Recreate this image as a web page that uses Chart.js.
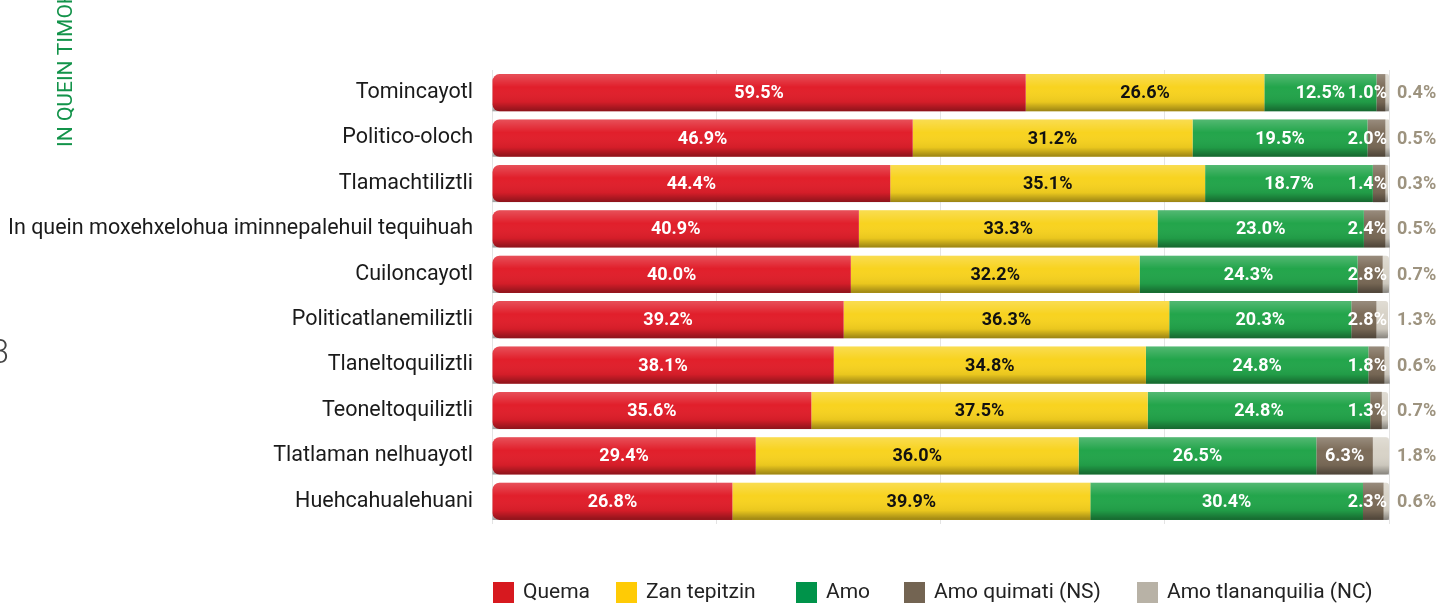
<!DOCTYPE html>
<html>
<head>
<meta charset="utf-8">
<script src="https://cdn.jsdelivr.net/npm/chart.js@4"></script>
<style>
html, body { margin: 0; padding: 0; background: #fff; }
#wrap { width: 1441px; height: 606px; position: relative; }
</style>
</head>
<body>
<div id="wrap"><canvas id="myChart"></canvas></div>
<script>
const categories = [
  "Tomincayotl",
  "Politico-oloch",
  "Tlamachtiliztli",
  "In quein moxehxelohua iminnepalehuil tequihuah",
  "Cuiloncayotl",
  "Politicatlanemiliztli",
  "Tlaneltoquiliztli",
  "Teoneltoquiliztli",
  "Tlatlaman nelhuayotl",
  "Huehcahualehuani"
]
const seriesNames = ["Quema", "Zan tepitzin", "Amo", "Amo quimati (NS)", "Amo tlananquilia (NC)"]

const quema       = [59.5, 46.9, 44.4, 40.9, 40.0, 39.2, 38.1, 35.6, 29.4, 26.8]
const zanTepitzin = [26.6, 31.2, 35.1, 33.3, 32.2, 36.3, 34.8, 37.5, 36.0, 39.9]
const amo         = [12.5, 19.5, 18.7, 23.0, 24.3, 20.3, 24.8, 24.8, 26.5, 30.4]
const amoQuimati  = [1.0, 2.0, 1.4, 2.4, 2.8, 2.8, 1.8, 1.3, 6.3, 2.3]
const amoTlanan   = [0.4, 0.5, 0.3, 0.5, 0.7, 1.3, 0.6, 0.7, 1.8, 0.6]

const barColors    = ['#e11f2b', '#f8d320', '#23a54b', '#7c6c59', '#d8d3c8']
const legendColors = ['#d7191f', '#ffcb05', '#00934a', '#736452', '#b8b2a6']

// shading + value labels
const barLabels = {
  id: 'barLabels',
  afterDatasetsDraw(chart) {
    const ctx = chart.ctx
    const area = chart.chartArea
    chart.data.datasets.forEach((ds, di) => {
      const meta = chart.getDatasetMeta(di)
      meta.data.forEach((el) => {
        const p = el.getProps(['x', 'y', 'base', 'height'], true)
        const left = Math.min(p.x, p.base)
        const w = Math.abs(p.x - p.base)
        const top = p.y - p.height / 2
        const g = ctx.createLinearGradient(0, top, 0, top + p.height)
        g.addColorStop(0, 'rgba(255,255,255,0.22)')
        g.addColorStop(0.35, 'rgba(255,255,255,0)')
        g.addColorStop(0.75, 'rgba(0,0,0,0.06)')
        g.addColorStop(1, 'rgba(0,0,0,0.38)')
        ctx.save()
        ctx.fillStyle = g
        ctx.fillRect(left, top, w, p.height)
        ctx.restore()
      })
    })

    ctx.save()
    ctx.font = 'bold 18px Roboto'
    ctx.textBaseline = 'middle'
    chart.data.datasets.forEach((ds, di) => {
      const meta = chart.getDatasetMeta(di)
      meta.data.forEach((el, i) => {
        const p = el.getProps(['x', 'y', 'base'], true)
        const txt = ds.data[i].toFixed(1) + '%'
        const w = Math.abs(p.x - p.base)
        const tw = ctx.measureText(txt).width
        const y = p.y + 1
        if (di === 4) {
          ctx.fillStyle = '#9d937f'
          ctx.textAlign = 'left'
          ctx.fillText(txt, area.right + 8, y)
        } else if (di === 3) {
          ctx.fillStyle = '#fff'
          if (w > tw + 10) {
            ctx.textAlign = 'center'
            ctx.fillText(txt, (p.x + p.base) / 2, y)
          } else {
            ctx.textAlign = 'right'
            ctx.fillText(txt, area.right - 2, y)
          }
        } else {
          ctx.fillStyle = di === 1 ? '#111' : '#fff'
          ctx.textAlign = 'center'
          ctx.fillText(txt, (p.x + p.base) / 2, y)
        }
      })
    })
    ctx.restore()
  }
}

// legend + page decorations
const pageBits = {
  id: 'pageBits',
  afterDraw(chart) {
    const ctx = chart.ctx
    ctx.save()
    const legendX = [493, 616, 796, 904, 1137]
    ctx.font = '21px Roboto'
    ctx.textBaseline = 'middle'
    ctx.textAlign = 'left'
    seriesNames.forEach((name, i) => {
      ctx.fillStyle = legendColors[i]
      ctx.fillRect(legendX[i], 582, 21, 21)
      ctx.fillStyle = '#222'
      ctx.fillText(name, legendX[i] + 30, 593)
    })

    ctx.save()
    ctx.translate(72, 147)
    ctx.rotate(-Math.PI / 2)
    ctx.fillStyle = '#13934a'
    ctx.font = '21px Roboto'
    ctx.textBaseline = 'alphabetic'
    ctx.fillText('IN QUEIN TIMOHI', 0, 0)
    ctx.restore()

    ctx.fillStyle = '#444'
    ctx.font = '300 33px Roboto'
    ctx.textAlign = 'right'
    ctx.textBaseline = 'alphabetic'
    ctx.fillText('3', 9, 363)
    ctx.restore()
  }
}

const series = [quema, zanTepitzin, amo, amoQuimati, amoTlanan]

const ctx = document.getElementById('myChart')
new Chart(ctx, {
  type: 'bar',
  data: {
    labels: categories,
    datasets: series.map((d, i) => ({
      label: seriesNames[i],
      data: d,
      backgroundColor: barColors[i],
      borderWidth: 0,
      barPercentage: 0.82,
      categoryPercentage: 1,
      borderSkipped: false,
      borderRadius: i === 0 ? { topLeft: 7, bottomLeft: 7, topRight: 0, bottomRight: 0 }
        : i === 4 ? { topLeft: 0, bottomLeft: 0, topRight: 3, bottomRight: 3 } : 0
    }))
  },
  options: {
    indexAxis: 'y',
    responsive: true,
    maintainAspectRatio: false,
    animation: false,
    layout: { padding: { top: 70, right: 52, bottom: 82, left: 10 } },
    plugins: {
      legend: { display: false },
      tooltip: { enabled: false }
    },
    scales: {
      x: {
        stacked: true,
        min: 0,
        max: 100,
        ticks: { display: false, stepSize: 25 },
        grid: { color: '#e4e4e4', drawTicks: false },
        border: { display: false }
      },
      y: {
        stacked: true,
        ticks: { color: '#1a1a1a', font: { family: 'Roboto', size: 21.5 }, padding: 19 },
        grid: { display: false, drawTicks: false },
        border: { display: false },
        afterFit(scale) { scale.width = 482 }
      }
    }
  },
  plugins: [barLabels, pageBits]
});
</script>
</body>
</html>
